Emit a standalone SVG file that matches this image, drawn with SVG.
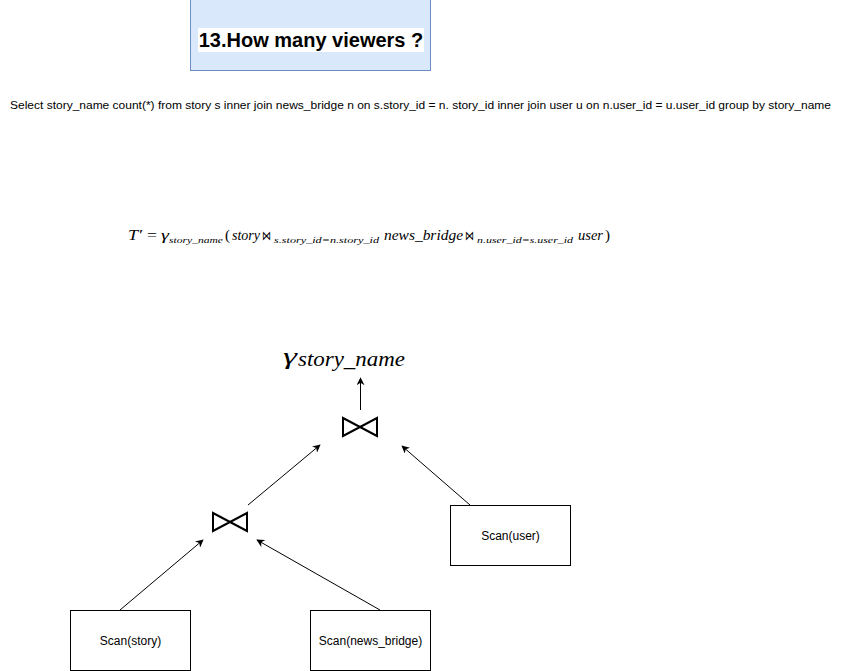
<svg xmlns="http://www.w3.org/2000/svg" width="841" height="671" viewBox="0 0 841 671">
<style>
.box{fill:#ffffff;stroke:#000000;stroke-width:1}
.lbl{font-family:"Liberation Sans",Arial,sans-serif;font-size:12px;fill:#000;text-anchor:middle}
.math{font-family:"Liberation Serif","DejaVu Serif",serif;font-style:italic;fill:#000}
.rm{font-family:"Liberation Serif","DejaVu Serif",serif;fill:#000}
.edge{stroke:#000;stroke-width:1;fill:none;marker-end:url(#arr)}
.bow{fill:none;stroke:#000;stroke-width:2}
</style>
<defs>
<marker id="arr" viewBox="0 0 10 10" refX="9" refY="5" markerWidth="8" markerHeight="8" orient="auto" markerUnits="userSpaceOnUse">
<path d="M0,0 L10,5 L0,10 L3,5 Z" fill="#000"/>
</marker>
</defs>
<rect width="841" height="671" fill="#ffffff"/>
<g id="title">
<rect x="190.5" y="-1" width="240" height="71.5" fill="#dae8fc" stroke="#6c8ebf"/>
<rect x="198" y="28" width="226" height="24" fill="#ffffff"/>
<text x="311" y="47" font-family="'Liberation Sans',Arial,sans-serif" font-size="20" font-weight="bold" text-anchor="middle">13.How many viewers ?</text>
</g>
<g id="sql">
<text x="10" y="109" font-family="'Liberation Sans',Arial,sans-serif" font-size="11" textLength="821" lengthAdjust="spacingAndGlyphs">Select story_name count(*) from story s inner join news_bridge n on s.story_id = n. story_id inner join user u on n.user_id = u.user_id group by story_name</text>
</g>
<g id="formula">
<text class="math" x="128" y="240" font-size="15" textLength="14" lengthAdjust="spacingAndGlyphs">T′</text>
<text class="rm" x="147" y="240" font-size="15" textLength="10" lengthAdjust="spacingAndGlyphs">=</text>
<text class="math" x="161" y="240" font-size="15" textLength="8" lengthAdjust="spacingAndGlyphs">γ</text>
<text class="math" x="169" y="243" font-size="9" textLength="54" lengthAdjust="spacingAndGlyphs">story_name</text>
<text class="rm" x="225" y="240" font-size="15">(</text>
<text class="math" x="232" y="240" font-size="15" textLength="28" lengthAdjust="spacingAndGlyphs">story</text>
<text class="rm" x="262" y="240" font-size="13" textLength="9" lengthAdjust="spacingAndGlyphs">⋈</text>
<text class="math" x="274" y="243" font-size="9" textLength="105" lengthAdjust="spacingAndGlyphs">s.story_id=n.story_id</text>
<text class="math" x="384" y="240" font-size="15" textLength="79" lengthAdjust="spacingAndGlyphs">news_bridge</text>
<text class="rm" x="465" y="240" font-size="13" textLength="9" lengthAdjust="spacingAndGlyphs">⋈</text>
<text class="math" x="477" y="243" font-size="9" textLength="96" lengthAdjust="spacingAndGlyphs">n.user_id=s.user_id</text>
<text class="math" x="578" y="240" font-size="15" textLength="25" lengthAdjust="spacingAndGlyphs">user</text>
<text class="rm" x="605" y="240" font-size="15">)</text>
</g>
<g id="gamma">
<text x="283" y="364" class="math" font-size="24" textLength="14" lengthAdjust="spacingAndGlyphs">γ</text>
<text x="298" y="366" class="math" font-size="20" textLength="107" lengthAdjust="spacingAndGlyphs">story_name</text>
</g>
<g id="join_top">
<path class="bow" d="M343,418 L377,436 L377,418 L343,436 Z"/>
</g>
<g id="join_bottom">
<path class="bow" d="M213,513 L247,531 L247,513 L213,531 Z"/>
</g>
<g id="scan_user">
<rect class="box" x="450.5" y="505.5" width="120" height="60"/>
<text class="lbl" x="510.5" y="540">Scan(user)</text>
</g>
<g id="scan_story">
<rect class="box" x="70.5" y="610.5" width="120" height="60"/>
<text class="lbl" x="130.5" y="645">Scan(story)</text>
</g>
<g id="scan_news_bridge">
<rect class="box" x="310.5" y="610.5" width="120" height="60"/>
<text class="lbl" x="370.5" y="645">Scan(news_bridge)</text>
</g>
<g id="connectors">
<line class="edge" x1="360.5" y1="410" x2="360.5" y2="378"/>
<line class="edge" x1="248" y1="505" x2="320" y2="445"/>
<line class="edge" x1="470" y1="505" x2="402" y2="446"/>
<line class="edge" x1="120" y1="610" x2="203" y2="540"/>
<line class="edge" x1="380" y1="610" x2="257" y2="540"/>
</g>
</svg>
